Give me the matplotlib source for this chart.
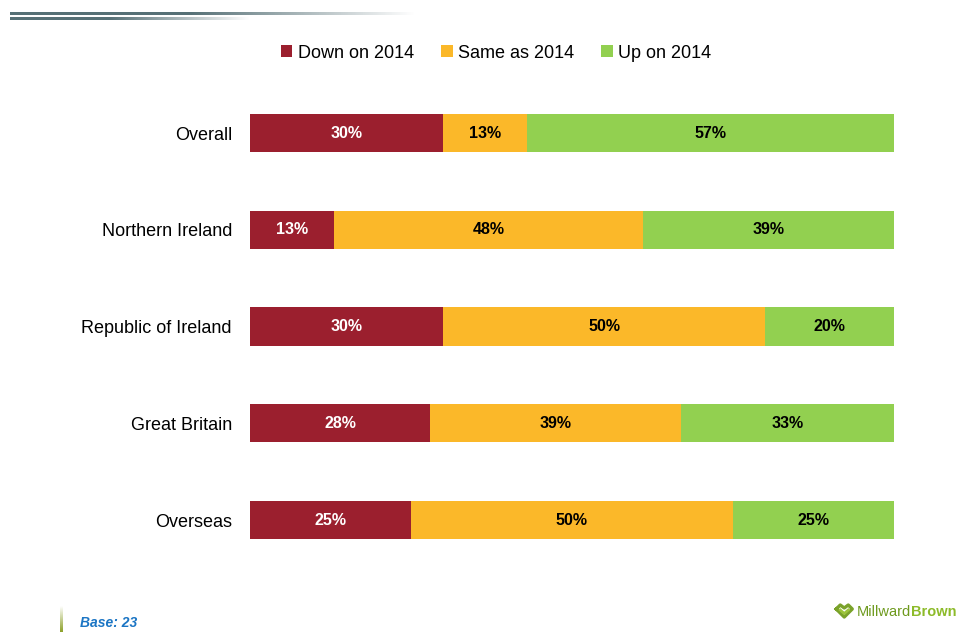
import numpy as np
import matplotlib
matplotlib.use("Agg")
import matplotlib.pyplot as plt
from matplotlib import font_manager

names = {f.name for f in font_manager.fontManager.ttflist}
NARROW = "Liberation Sans Narrow" if "Liberation Sans Narrow" in names else "Liberation Sans"
plt.rcParams["font.family"] = [NARROW, "DejaVu Sans"]

categories = ["Overall", "Northern Ireland", "Republic of Ireland", "Great Britain", "Overseas"]
series_names = ["Down on 2014", "Same as 2014", "Up on 2014"]
down = [30, 13, 30, 28, 25]
same = [13, 48, 50, 39, 50]
up = [57, 39, 20, 33, 25]
colors = ["#9B1F2E", "#FBB829", "#92D050"]
label_colors = ["white", "black", "black"]

W, H = 959, 632
fig = plt.figure(figsize=(W / 100, H / 100), dpi=100)
fig.patch.set_facecolor("white")

# main bar axes
ax = fig.add_axes([250 / W, 1 - 568.4 / H, 644 / W, 483.75 / H])
y = np.arange(len(categories))
left = np.zeros(len(categories))
for vals, c, tc, name in zip([down, same, up], colors, label_colors, series_names):
    vals = np.array(vals, dtype=float)
    bars = ax.barh(y, vals, left=left, height=0.395, color=c, label=name, edgecolor="none")
    for b, v in zip(bars, vals):
        ax.text(b.get_x() + b.get_width() / 2, b.get_y() + b.get_height() / 2, f"{v:.0f}%",
                ha="center", va="center", color=tc, fontsize=11.5, fontweight="bold")
    left += vals
ax.set_xlim(0, 100)
ax.set_ylim(len(categories) - 0.5, -0.5)
ax.set_yticks(y)
ax.set_yticklabels(categories, fontsize=13, color="black")
ax.tick_params(axis="y", length=0, pad=13)
ax.set_xticks([])
for s in ax.spines.values():
    s.set_visible(False)

leg = fig.legend(loc="center", bbox_to_anchor=(496 / W, 1 - 53 / H), ncol=3, frameon=False,
                 fontsize=13, handlelength=0.65, handleheight=0.65, handletextpad=0.3,
                 columnspacing=1.5)

# header rule lines with fading gradient
hdr = fig.add_axes([0, 0, 1, 1], zorder=-1)
hdr.axis("off")
base_rgb = np.array([86, 112, 118]) / 255.0

def fade_line(x0, x_solid, x1, yc, thick):
    n = 400
    xs = np.linspace(x0, x1, n)
    alpha = np.clip(1 - (xs - x_solid) / (x1 - x_solid), 0, 1)
    img = np.zeros((1, n, 4))
    img[0, :, :3] = base_rgb
    img[0, :, 3] = alpha
    hdr.imshow(img, extent=(x0, x1, yc + thick / 2, yc - thick / 2), aspect="auto",
               interpolation="bilinear")

fade_line(10, 190, 415, 14, 2.2)
fade_line(10, 110, 250, 19, 2.2)

# footer accent bar
n = 100
img = np.zeros((n, 1, 4))
img[:, 0, :3] = np.array([140, 160, 40]) / 255.0
img[:, 0, 3] = np.linspace(0, 1, n)
hdr.imshow(img, extent=(60, 63, 632, 606), aspect="auto", interpolation="bilinear")
hdr.set_xlim(0, W)
hdr.set_ylim(H, 0)

fig.text(80 / W, 1 - 623 / H, "Base: 23", fontsize=10, fontweight="bold", fontstyle="italic",
         color="#1B75C4", va="center", ha="left", family=["Liberation Sans", "DejaVu Sans"])

# footer brand mark, right-aligned to the page edge
t2 = fig.text(956 / W, 1 - 612 / H, "Brown", fontsize=10.5, color="#8DBB2A", va="center",
              ha="right", family=["Liberation Sans", "DejaVu Sans"], fontweight="bold")
fig.canvas.draw()
bb = t2.get_window_extent()
t1 = fig.text(bb.x0 / W, 1 - 612 / H, "Millward", fontsize=10.5, color="#6E9A1E", va="center",
              ha="right", family=["Liberation Sans", "DejaVu Sans"])
fig.canvas.draw()
x0 = t1.get_window_extent().x0
ic = x0 - 12
hdr.plot([ic - 8, ic - 4, ic, ic + 4, ic + 8, ic, ic - 8], [609, 605, 608, 605, 609, 617, 609],
         color="#7AA22A", lw=2.4, solid_joinstyle="round")
hdr.plot([ic - 4, ic, ic + 4], [610, 613.5, 610], color="#9CC43A", lw=2)

fig.savefig("out.png", dpi=100, facecolor="white")
